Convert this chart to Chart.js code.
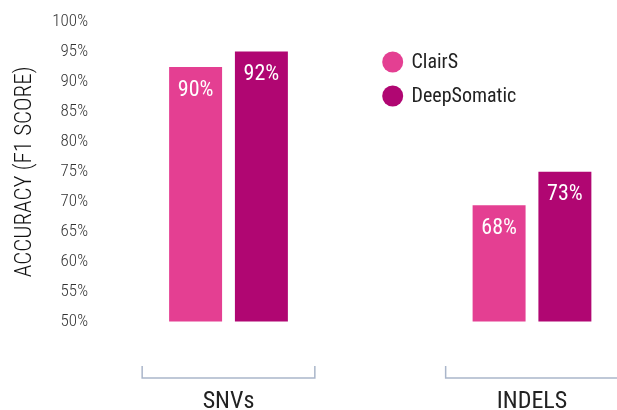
<!DOCTYPE html>
<html><head><meta charset="utf-8">
<script src="https://cdn.jsdelivr.net/npm/chart.js@4.4.1/dist/chart.umd.min.js"></script>
<style>html,body{margin:0;padding:0;background:#fff}#wrap{width:617px;height:410px}</style>
</head><body><div id="wrap"><canvas id="c" width="617" height="410"></canvas></div>
<script>
// ---- data ----
const categories = ['SNVs', 'INDELS'];
const seriesNames = ['ClairS', 'DeepSomatic'];
const clairsBar = [92.5, 69.4];      // bar heights as drawn
const deepBar = [95.1, 75.0];
const clairsLabel = [90, 68];        // printed values on bars
const deepLabel = [92, 73];
const yTickValues = [50, 55, 60, 65, 70, 75, 80, 85, 90, 95, 100];
const yTitle = 'ACCURACY (F1 SCORE)';

const colors = ['#E43F92', '#B00672'];
const FONT = "'Roboto Condensed', 'Liberation Sans Narrow', Roboto, sans-serif";
Chart.defaults.font.family = FONT;

const printed = [clairsLabel, deepLabel];

const bracketPlugin = {
  id: 'brackets',
  afterDraw(chart) {
    const ctx = chart.ctx, xs = chart.scales.x, b = chart.chartArea.bottom;
    ctx.save();
    ctx.strokeStyle = '#aab6ca';
    ctx.lineWidth = 1.5;
    categories.forEach((c, i) => {
      const l = xs.getPixelForValue(i - 0.2845), r = xs.getPixelForValue(i + 0.2845);
      ctx.beginPath();
      ctx.moveTo(l, b + 44.5); ctx.lineTo(l, b + 56.5); ctx.lineTo(r, b + 56.5); ctx.lineTo(r, b + 44.5);
      ctx.stroke();
    });
    ctx.restore();
  }
};

const valueLabelPlugin = {
  id: 'valueLabels',
  afterDatasetsDraw(chart) {
    const ctx = chart.ctx;
    ctx.save();
    ctx.fillStyle = '#ffffff';
    ctx.font = '22px ' + FONT;
    ctx.textAlign = 'center';
    ctx.textBaseline = 'middle';
    chart.data.datasets.forEach((ds, d) => {
      chart.getDatasetMeta(d).data.forEach((el, i) => {
        ctx.fillText(printed[d][i] + '%', el.x, el.y + 23);
      });
    });
    ctx.restore();
  }
};

const legendPlugin = {
  id: 'customLegend',
  afterDraw(chart) {
    const ctx = chart.ctx;
    ctx.save();
    ctx.font = '20px ' + FONT;
    ctx.textBaseline = 'middle';
    ctx.textAlign = 'left';
    chart.data.datasets.forEach((ds, d) => {
      const cy = 62 + d * 34;
      ctx.fillStyle = ds.backgroundColor;
      ctx.beginPath(); ctx.arc(392.7, cy, 10.5, 0, Math.PI * 2); ctx.fill();
      ctx.fillStyle = '#222222';
      ctx.fillText(ds.label, 411.5, cy + 1);
    });
    ctx.restore();
  }
};

new Chart(document.getElementById('c'), {
  type: 'bar',
  data: {
    datasets: [
      { label: seriesNames[0], data: clairsBar.map((v, i) => ({ x: i, y: v })), backgroundColor: colors[0] },
      { label: seriesNames[1], data: deepBar.map((v, i) => ({ x: i, y: v })), backgroundColor: colors[1] }
    ]
  },
  options: {
    responsive: false,
    animation: false,
    devicePixelRatio: 1,
    categoryPercentage: 0.4336,
    barPercentage: 0.805,
    layout: { padding: { top: 19, left: 0, right: 0, bottom: 0 } },
    plugins: { legend: { display: false }, tooltip: { enabled: false } },
    scales: {
      x: {
        type: 'linear',
        position: 'bottom',
        offset: false,
        min: -0.4234,
        max: 1.2801,
        grid: { display: false, drawTicks: false, offset: false },
        border: { display: false },
        afterBuildTicks(scale) { scale.ticks = categories.map((c, i) => ({ value: i })); },
        afterFit(scale) { scale.height = 88.5; scale.paddingLeft = 0; scale.paddingRight = 0; },
        ticks: {
          callback: (v) => categories[Math.round(v)],
          font: { size: 24 },
          color: '#222222',
          padding: 66,
          maxRotation: 0,
          autoSkip: false
        }
      },
      y: {
        min: 50,
        max: 100,
        grid: { display: false, drawTicks: false },
        border: { display: false },
        afterBuildTicks(scale) { scale.ticks = yTickValues.map(v => ({ value: v })); },
        afterFit(scale) { scale.width = 100; },
        ticks: {
          callback: (v) => v + '%',
          font: { size: 17, weight: '300' },
          color: '#333333',
          padding: 12
        },
        title: {
          display: true,
          text: yTitle,
          font: { size: 23, weight: '300' },
          color: '#111111',
          padding: { top: 11.5, bottom: 0 }
        }
      }
    }
  },
  plugins: [bracketPlugin, valueLabelPlugin, legendPlugin]
});
</script>
</body></html>
